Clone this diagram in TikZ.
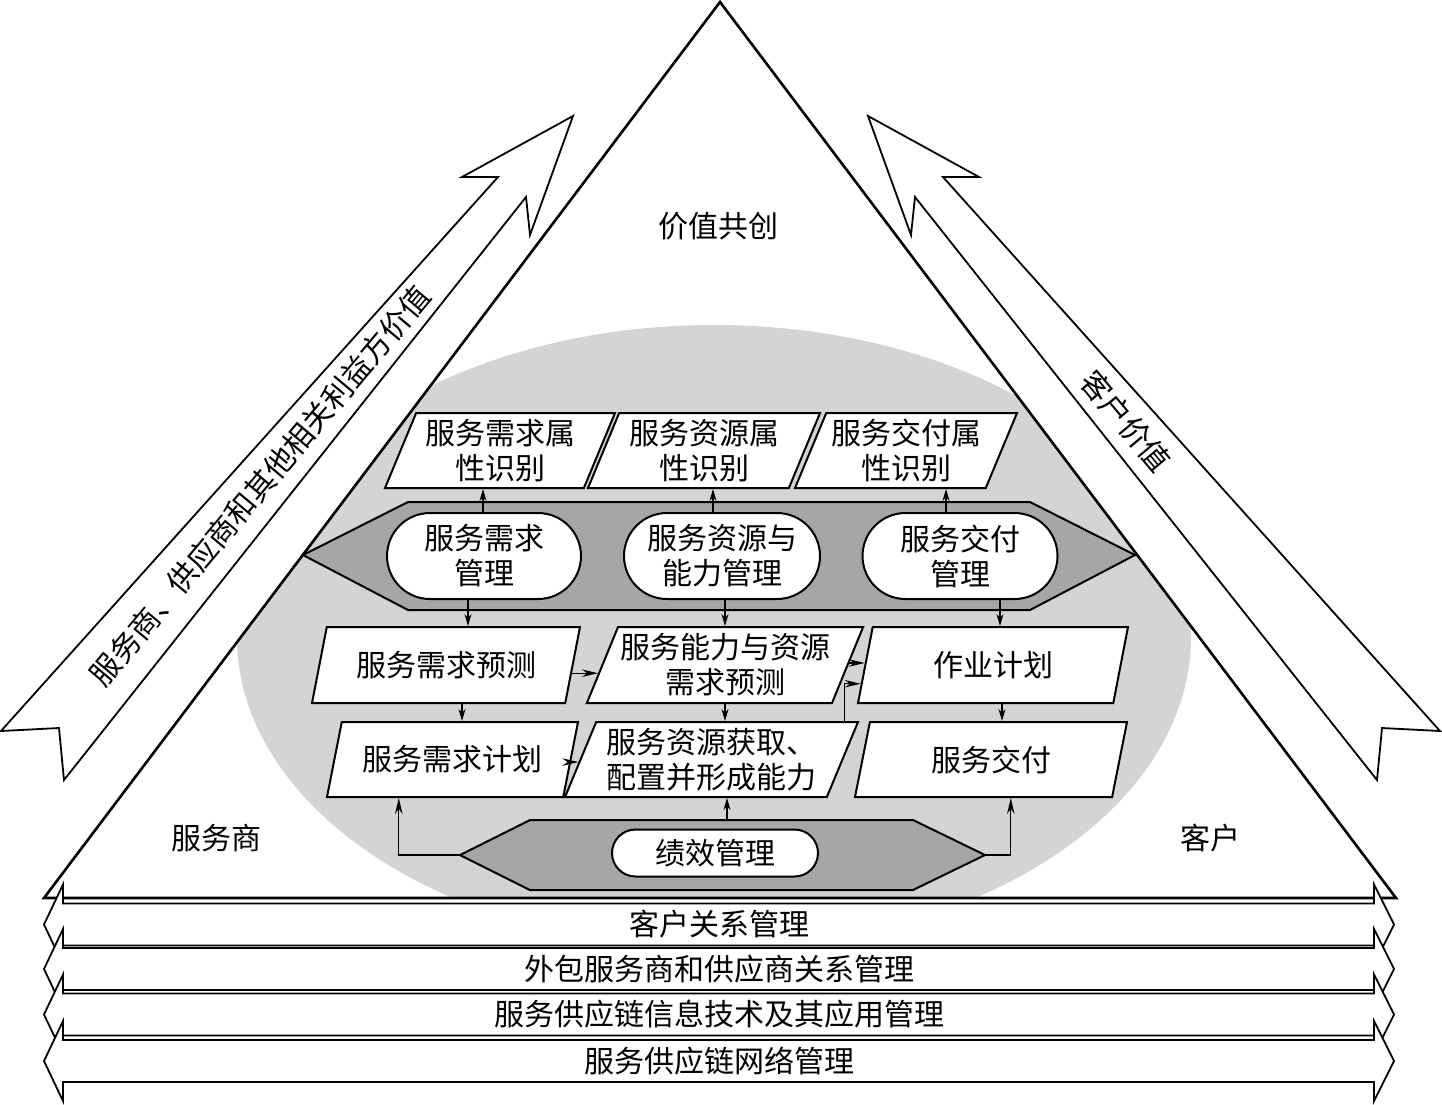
\documentclass[tikz,border=0pt]{standalone}
\usepackage{fontspec}
\setmainfont{Noto Sans CJK SC}
\usetikzlibrary{shapes.geometric,shapes.misc,arrows.meta,calc}
\newcommand\bandarrow[3]{%
  \draw[bandline] (63,#2-21) -- (1374,#2-21) -- (1374,#2-40) -- (1394,#2) -- (1374,#2+40) -- (1374,#2+21)
     -- (63,#2+21) -- (63,#2+40) -- (44,#2) -- (63,#2-40) -- cycle;
  \node[txt] (#1) at (719,#2) {#3};}
\begin{document}
\begin{tikzpicture}[x=1pt,y=-1pt,
  txt/.style={font=\fontsize{30}{35}\selectfont, inner sep=2pt, align=center},
  para/.style={txt, draw, fill=white, line width=2pt, trapezium, trapezium left angle=65,
     trapezium right angle=115, trapezium stretches body=true, minimum height=#1},
  stad/.style={txt, draw, fill=white, line width=2pt, rounded rectangle, minimum height=86pt},
  hexfill/.style={fill=black!35, draw=black, line width=2pt, line join=miter},
  bigarrow/.style={fill=white, draw=black, line width=1.8pt, line join=miter},
  bandline/.style={fill=white, draw=black, line width=1.8pt, line join=miter},
  arr/.style={line width=1.3pt, -{Stealth[length=12pt,width=7pt]}},
  larr/.style={line width=1.3pt, -{Stealth[length=16pt,width=7.5pt]}},
  lbl/.style={txt}]
\useasboundingbox (0,0) rectangle (1442,1104);
\fill[white] (0,0) rectangle (1442,1104);

% triangle and ellipse
\coordinate (apex) at (720,2);
\coordinate (baseL) at (44,898);
\coordinate (baseR) at (1396,898);
\fill[white] (apex) -- (baseR) -- (baseL) -- cycle;
\begin{scope}
  \clip (apex) -- (baseR) -- (baseL) -- cycle;
  \fill[black!17] (714,637) ellipse [x radius=477pt, y radius=312pt];
\end{scope}
\draw[line width=2.6pt, line join=miter] (apex) -- (baseR) -- (baseL) -- cycle;

% big side arrows
\draw[bigarrow] (573,116) -- (462,177) -- (498,177) -- (1,731) -- (59,728) -- (64,780)
   -- (526,197) -- (530,235) -- cycle;
\draw[bigarrow] (868,116) -- (979,177) -- (943,177) -- (1440,731) -- (1382,728) -- (1377,780)
   -- (915,197) -- (911,235) -- cycle;
\node[txt, rotate=50] (lval) at (260,486) {服务商、供应商和其他相关利益方价值};
\node[txt, rotate=-50] (rval) at (1126,421) {客户价值};

% labels
\node[lbl] (cocreate) at (718,226) {价值共创};
\node[lbl] (provider) at (216,838) {服务商};
\node[lbl] (customer) at (1210,838) {客户};

% main hexagon band
\coordinate (hL) at (303,555);
\coordinate (hTL) at (408,502);
\coordinate (hTR) at (1030,502);
\coordinate (hR) at (1135,555);
\coordinate (hBR) at (1030,610);
\coordinate (hBL) at (408,610);
\draw[hexfill] (hL) -- (hTL) -- (hTR) -- (hR) -- (hBR) -- (hBL) -- cycle;

\node[stad, minimum width=198pt] (S1) at (484,556) {服务需求\\管理};
\node[stad, minimum width=200pt] (S2) at (722,556) {服务资源与\\能力管理};
\node[stad, minimum width=199pt] (S3) at (960,556) {服务交付\\管理};

% top row
\node[para=75pt, minimum width=230pt] (A1) at (500,450.5) {服务需求属\\性识别};
\node[para=75pt, minimum width=232pt] (A2) at (704,450.5) {服务资源属\\性识别};
\node[para=75pt, minimum width=222pt] (A3) at (906,450.5) {服务交付属\\性识别};

% second row
\node[para=76pt, minimum width=268pt] (B1) at (446,665) {服务需求预测};
\node[para=76pt, minimum width=276pt] (B2) at (725,665) {服务能力与资源\\需求预测};
\node[para=76pt, minimum width=270pt] (B3) at (993,665) {作业计划};

% third row
\node[para=75pt, minimum width=251pt] (C1) at (452.5,759.5) {服务需求计划};
\node[para=75pt, minimum width=293pt] (C2) at (711.5,759.5) {服务资源获取、\\配置并形成能力};
\node[para=75pt, minimum width=272pt] (C3) at (991,759.5) {服务交付};

% performance hexagon
\coordinate (pL) at (460,855);
\coordinate (pTL) at (530,820);
\coordinate (pTR) at (913,820);
\coordinate (pR) at (985,855);
\coordinate (pBR) at (913,890);
\coordinate (pBL) at (530,890);
\coordinate (pT) at (727,820);
\draw[hexfill] (pL) -- (pTL) -- (pTR) -- (pR) -- (pBR) -- (pBL) -- cycle;
\node[stad, minimum width=210pt, minimum height=47pt] (P) at (715,853) {绩效管理};

% connectors: stadiums up to attribute boxes
\draw[arr] ([xshift=-1pt]S1.north) -- ([xshift=-1pt]S1.north |- A1.bottom side);
\draw[arr] ([xshift=-9pt]S2.north) -- ([xshift=-9pt]S2.north |- A2.bottom side);
\draw[arr] ([xshift=-14pt]S3.north) -- ([xshift=-14pt]S3.north |- A3.bottom side);
% stadiums down to second row
\draw[arr] ([xshift=-16pt]S1.south) -- ([xshift=-16pt]S1.south |- B1.top side);
\draw[arr] ([xshift=3pt]S2.south) -- ([xshift=3pt]S2.south |- B2.top side);
\draw[arr] ([xshift=40pt]S3.south) -- ([xshift=40pt]S3.south |- B3.top side);
% second row to third row
\draw[arr] ([xshift=16pt]B1.center |- B1.bottom side) -- ([xshift=16pt]B1.center |- C1.top side);
\draw[arr] (B2.center |- B2.bottom side) -- (B2.center |- C2.top side);
\draw[arr] ([xshift=9pt]B3.center |- B3.bottom side) -- ([xshift=9pt]B3.center |- C3.top side);
% horizontal links
\draw[larr] ($(B1.bottom right corner)!0.395!(B1.top right corner)$) -- ($(B2.bottom left corner)!0.395!(B2.top left corner)$);
\draw[larr] ($(B2.bottom right corner)!0.526!(B2.top right corner)$) -- ($(B3.bottom left corner)!0.526!(B3.top left corner)$);
\draw[larr] ($(C1.bottom right corner)!0.467!(C1.top right corner)$) -- ($(C2.bottom left corner)!0.467!(C2.top left corner)$);
\draw[larr] ($(C2.top right corner)+(-15,0)$) |- ($(B3.bottom left corner)!0.26!(B3.top left corner)$);
% performance links
\draw[larr] (pL) -| ($(C1.bottom left corner)+(73,0)$);
\draw[larr] (pR) -| ($(C3.bottom left corner)+(157,0)$);
\draw[arr] (pT) -- (pT |- C2.bottom side);

% bottom bands
\bandarrow{band1}{924.5}{客户关系管理}
\bandarrow{band2}{969}{外包服务商和供应商关系管理}
\bandarrow{band3}{1014.5}{服务供应链信息技术及其应用管理}
\bandarrow{band4}{1061}{服务供应链网络管理}
\end{tikzpicture}
\end{document}
